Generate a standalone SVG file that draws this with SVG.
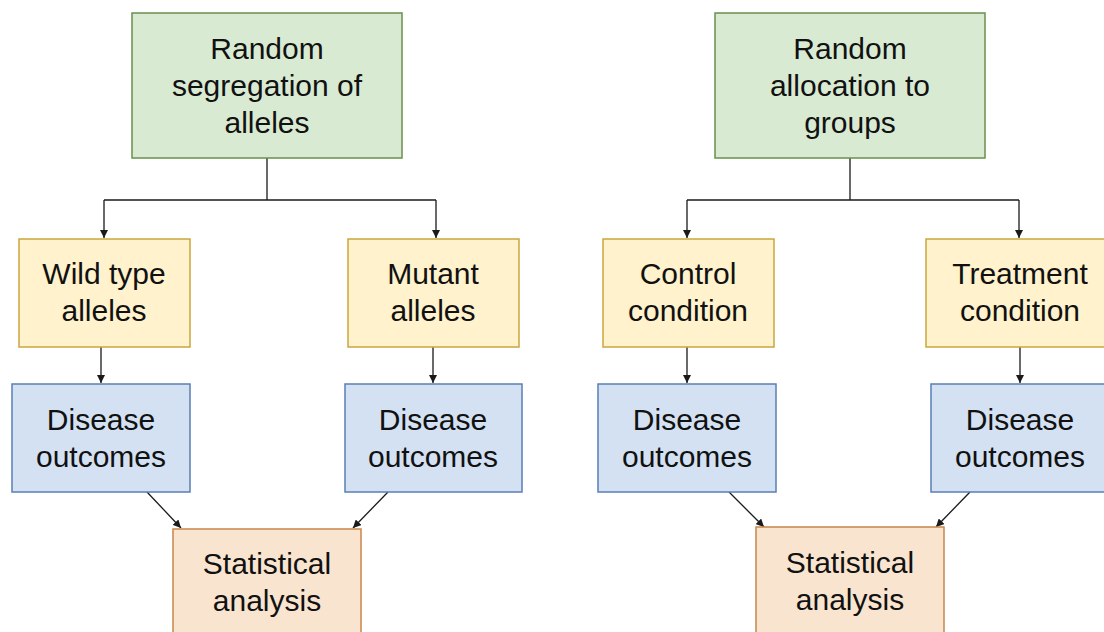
<svg xmlns="http://www.w3.org/2000/svg" width="1104" height="632" viewBox="0 0 1104 632">
  <defs>
    <marker id="arrow" viewBox="0 0 10 10" refX="10" refY="5" markerWidth="8" markerHeight="8" markerUnits="userSpaceOnUse" orient="auto">
      <path d="M0,0 L10,5 L0,10 Z" fill="#1a1a1a"/>
    </marker>
    <style>
      .green { fill: #d9ead3; stroke: #6b8e4e; stroke-width: 1.5; }
      .yellow { fill: #fff2cc; stroke: #c9a63e; stroke-width: 1.5; }
      .blue { fill: #d3e1f2; stroke: #5a7fb5; stroke-width: 1.5; }
      .orange { fill: #f9e4cf; stroke: #c8874a; stroke-width: 1.5; }
      text { font-family: "Liberation Sans", Arial, sans-serif; font-size: 30px; fill: #111111; text-anchor: middle; }
      .conn { fill: none; stroke: #1a1a1a; stroke-width: 1.3; }
    </style>
  </defs>
  <rect width="1104" height="632" fill="#ffffff"/>

  <!-- connectors -->
  <g id="connectors">
    <!-- left tree -->
    <path class="conn" d="M267,158 V200"/>
    <path class="conn" d="M104,200 H436"/>
    <path class="conn" d="M104,200 V238" marker-end="url(#arrow)"/>
    <path class="conn" d="M436,200 V238" marker-end="url(#arrow)"/>
    <path class="conn" d="M101,347 V383" marker-end="url(#arrow)"/>
    <path class="conn" d="M433,347 V383" marker-end="url(#arrow)"/>
    <path class="conn" d="M147,492 L181,528" marker-end="url(#arrow)"/>
    <path class="conn" d="M388,492 L353,528" marker-end="url(#arrow)"/>
    <!-- right tree -->
    <path class="conn" d="M850,158 V200"/>
    <path class="conn" d="M687,200 H1019"/>
    <path class="conn" d="M687,200 V238" marker-end="url(#arrow)"/>
    <path class="conn" d="M1019,200 V238" marker-end="url(#arrow)"/>
    <path class="conn" d="M687,347 V383" marker-end="url(#arrow)"/>
    <path class="conn" d="M1020,347 V383" marker-end="url(#arrow)"/>
    <path class="conn" d="M729,492 L764,527" marker-end="url(#arrow)"/>
    <path class="conn" d="M970,492 L936,527" marker-end="url(#arrow)"/>
  </g>

  <!-- left tree nodes -->
  <g id="segregation">
    <rect class="green" x="132" y="13" width="270" height="145"/>
    <text x="267" y="59">Random</text>
    <text x="267" y="96">segregation of</text>
    <text x="267" y="133">alleles</text>
  </g>
  <g id="wild-type">
    <rect class="yellow" x="19" y="239" width="171" height="108"/>
    <text x="104" y="284">Wild type</text>
    <text x="104" y="321">alleles</text>
  </g>
  <g id="mutant">
    <rect class="yellow" x="348" y="239" width="171" height="108"/>
    <text x="433" y="284">Mutant</text>
    <text x="433" y="321">alleles</text>
  </g>
  <g id="outcomes-wild">
    <rect class="blue" x="12" y="384" width="178" height="108"/>
    <text x="101" y="430">Disease</text>
    <text x="101" y="467">outcomes</text>
  </g>
  <g id="outcomes-mutant">
    <rect class="blue" x="345" y="384" width="177" height="108"/>
    <text x="433" y="430">Disease</text>
    <text x="433" y="467">outcomes</text>
  </g>
  <g id="analysis-left">
    <rect class="orange" x="173" y="529" width="188" height="120"/>
    <text x="267" y="574">Statistical</text>
    <text x="267" y="611">analysis</text>
  </g>

  <!-- right tree nodes -->
  <g id="allocation">
    <rect class="green" x="715" y="13" width="270" height="145"/>
    <text x="850" y="59">Random</text>
    <text x="850" y="96">allocation to</text>
    <text x="850" y="133">groups</text>
  </g>
  <g id="control">
    <rect class="yellow" x="603" y="239" width="171" height="108"/>
    <text x="688" y="284">Control</text>
    <text x="688" y="321">condition</text>
  </g>
  <g id="treatment">
    <rect class="yellow" x="926" y="239" width="182" height="108"/>
    <text x="1020" y="284">Treatment</text>
    <text x="1020" y="321">condition</text>
  </g>
  <g id="outcomes-control">
    <rect class="blue" x="598" y="384" width="178" height="108"/>
    <text x="687" y="430">Disease</text>
    <text x="687" y="467">outcomes</text>
  </g>
  <g id="outcomes-treatment">
    <rect class="blue" x="931" y="384" width="178" height="108"/>
    <text x="1020" y="430">Disease</text>
    <text x="1020" y="467">outcomes</text>
  </g>
  <g id="analysis-right">
    <rect class="orange" x="756" y="527" width="188" height="120"/>
    <text x="850" y="573">Statistical</text>
    <text x="850" y="610">analysis</text>
  </g>
</svg>
